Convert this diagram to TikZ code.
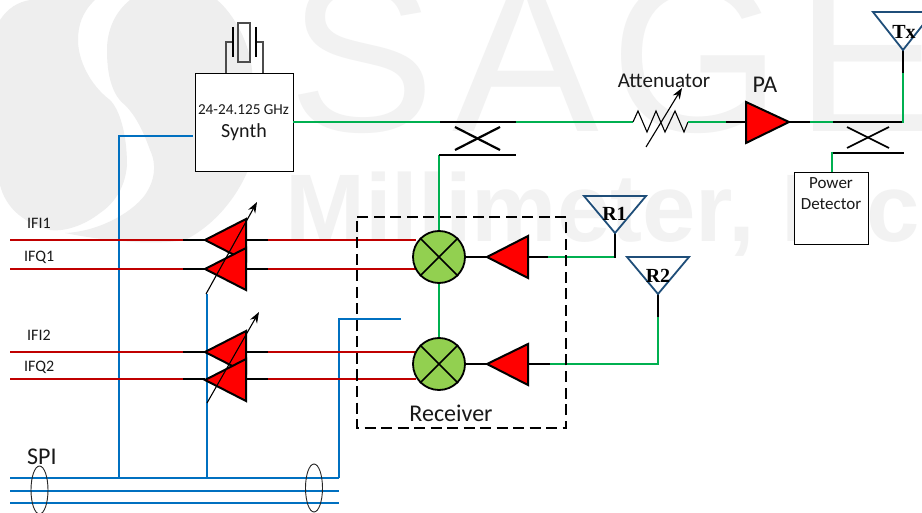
\documentclass[tikz,border=0pt]{standalone}
\usepackage{fontspec}
\setmainfont{Carlito}
\newfontfamily\wmfont{Liberation Sans}[BoldFont={Liberation Sans Bold}]
\newfontfamily\antfont{Liberation Serif}[BoldFont={Liberation Serif Bold}]
\usetikzlibrary{arrows.meta,calc,shapes.geometric}
\definecolor{wire}{HTML}{00B050}
\definecolor{bus}{HTML}{0070C0}
\definecolor{ifred}{HTML}{C00000}
\definecolor{mixgreen}{HTML}{92D050}
\definecolor{navy}{HTML}{1F4E79}
\definecolor{wmA}{HTML}{EEEEEE}
\definecolor{wmB}{HTML}{F2F2F2}
\tikzset{
  gw/.style={draw=wire,line width=2.9pt},
  bw/.style={draw=black,line width=2.6pt},
  rw/.style={draw=ifred,line width=2.9pt},
  bl/.style={draw=bus,line width=2.9pt},
  ampbody/.style={draw=black,fill=red,line width=2pt,line join=miter},
  mixer/.style={circle,draw=black,fill=mixgreen,line width=1.8pt,minimum size=52pt,inner sep=0pt},
  boxn/.style={draw=black,fill=white,line width=.9pt,inner sep=0pt},
  ant/.style={draw=navy,line width=1.8pt,line join=miter},
  antlab/.style={font=\antfont\bfseries\fontsize{20}{22}\selectfont,inner sep=0pt},
  lab/.style={inner sep=0pt,text=black!90},
  tune/.style={draw=black,line width=1.1pt,-{Stealth[length=11pt,width=8pt]}},
  wmL/.style={anchor=base west,inner sep=0pt,text=wmB,font=\wmfont\fontsize{220}{220}\selectfont},
  spioval/.style={ellipse,draw=black!85,line width=.9pt},
}
\newcommand{\AmpR}[3]{% name, apex x, y
  \draw[ampbody] (#2,#3) -- (#2+41,#3-21) -- (#2+41,#3+21) -- cycle;
  \coordinate (#1-in) at (#2,#3);
  \coordinate (#1-out) at (#2+41,#3);
}
\begin{document}
\begin{tikzpicture}[x=1pt,y=-1pt]
\useasboundingbox (0,0) rectangle (922,513);
\fill[white] (0,0) rectangle (922,513);
\begin{scope}
\clip (0,0) rectangle (922,513);
% watermark logo
\fill[wmA] (0,20) .. controls (8,8) and (18,2) .. (30,0) -- (95,0)
  .. controls (82,12) and (78,26) .. (78,40)
  .. controls (78,60) and (90,85) .. (110,100)
  .. controls (120,110) and (127,135) .. (127,165)
  .. controls (125,190) and (112,205) .. (100,213)
  .. controls (85,225) and (65,232) .. (50,230)
  .. controls (20,222) and (5,205) .. (0,185) -- cycle;
\fill[wmA] (130,0) -- (217,0) .. controls (235,15) and (250,45) .. (252,70)
  -- (252,160) .. controls (240,195) and (215,225) .. (185,240)
  .. controls (150,246) and (100,240) .. (65,233)
  .. controls (95,232) and (130,215) .. (145,195)
  .. controls (155,180) and (157,165) .. (150,150)
  .. controls (143,130) and (135,115) .. (125,105)
  .. controls (112,95) and (107,75) .. (107,50)
  .. controls (107,30) and (115,12) .. (130,0) -- cycle;
% watermark text
\node[wmL] (wmS) at (288,132) {S};
\node[wmL] (wmA1) at (452,132) {A};
\node[wmL] (wmG) at (610,132) {G};
\node[wmL] (wmE) at (795,132) {E};
\node[anchor=base west,inner sep=0pt,text=wmB,font=\wmfont\bfseries\fontsize{96}{96}\selectfont] (wmM) at (285,242) {Millimeter, Inc};

% boxes
\node[boxn,minimum width=98pt,minimum height=98pt] (synth) at (244,122) {};
\node[boxn,minimum width=74pt,minimum height=72pt] (det) at (831,208) {};
\node[lab,font=\fontsize{15.2}{17}\selectfont] (synthf) at (243.5,110) {24-24.125 GHz};
\node[lab,font=\fontsize{20}{22}\selectfont] (synthn) at (244,132) {Synth};
\node[lab,font=\fontsize{17}{19}\selectfont] (det1) at (831,183) {Power};
\node[lab,font=\fontsize{17}{19}\selectfont] (det2) at (831,204) {Detector};

% crystal
\begin{scope}[draw=black!70,line width=1.1pt]
\draw (238,23) rectangle (250,62);
\draw (226,73) -- (226,42) -- (233,42);
\draw (263,73) -- (263,42) -- (256,42);
\end{scope}
\draw[black,line width=1.5pt] (233,27) -- (233,57);
\draw[black,line width=1.5pt] (256,27) -- (256,57);

% bus and control wires
\coordinate (busA) at (119,478);
\coordinate (busB) at (207,478);
\coordinate (busC) at (339,478);
\draw[bl] (10,478) -- (339,478);
\draw[bl] (10,491) -- (339,491);
\draw[bl] (10,503) -- (339,503);
\draw[bl] (busA) -- (119,136) -- (193,136);
\draw[bl] (busB) -- (207,294);
\draw[bl] (busC) -- (339,319) -- (401,319);
\node[spioval,minimum width=17pt,minimum height=48pt,inner sep=0pt] (ov1) at (39.5,490) {};
\node[spioval,minimum width=17pt,minimum height=48pt,inner sep=0pt] (ov2) at (314,488) {};
\node[lab,anchor=base west,font=\fontsize{24}{26}\selectfont] (spi) at (27,464) {SPI};

% IF lines
\foreach \yy in {240,269,352,379}{
  \draw[rw] (10,\yy) -- (183,\yy);
  \draw[bw] (183,\yy) -- (205,\yy);
  \draw[bw] (246,\yy) -- (268,\yy);
  \draw[rw] (268,\yy) -- (416,\yy);
}
\node[lab,anchor=base west,font=\fontsize{16}{18}\selectfont] (ifi1) at (27,229) {IFI1};
\node[lab,anchor=base west,font=\fontsize{16}{18}\selectfont] (ifq1) at (24,262) {IFQ1};
\node[lab,anchor=base west,font=\fontsize{16}{18}\selectfont] (ifi2) at (27,341) {IFI2};
\node[lab,anchor=base west,font=\fontsize{16}{18}\selectfont] (ifq2) at (24,372) {IFQ2};

% IF amplifiers
\AmpR{a1}{205}{240}
\AmpR{a2}{205}{269}
\draw[tune] (206,294) -- (257,202);
\AmpR{a3}{205}{352}
\AmpR{a4}{205}{380}
\draw[tune] (207,403) -- (259,312);

% mixers
\draw[gw] (439,155) -- (439,340);
\node[mixer] (m1) at (439,257) {};
\node[mixer] (m2) at (439,364) {};
\foreach \m in {m1,m2}{
  \draw[black,line width=1.6pt] (\m.45) -- (\m.225);
  \draw[black,line width=1.6pt] (\m.135) -- (\m.315);
}
% RX amplifiers
\draw[bw] (m1.east) -- (487,257);
\draw[bw] (m2.east) -- (487,364);
\draw[ampbody] (487,257) -- (528,236) -- (528,278) -- cycle;
\draw[ampbody] (487,364) -- (528,344) -- (528,385) -- cycle;
\draw[bw] (528,257) -- (548,257);
\draw[gw] (548,257) -- (615,257);
\draw[bw] (615,258) -- (615,233);
\draw[bw] (528,364) -- (550,364);
\draw[gw] (550,364) -- (658,364) -- (658,317);
\draw[bw] (658,317) -- (658,294);
\draw[ant] (584,196) -- (646,196) -- (615,233) -- cycle;
\draw[ant] (627,257) -- (689,257) -- (658,294) -- cycle;
\node[antlab] (r1) at (614.5,214) {R1};
\node[antlab] (r2) at (658,276) {R2};

% receiver frame
\draw[black,line width=1.3pt,dash pattern=on 11pt off 5.5pt] (357,221) -- (357,428) -- (566,428) -- (566,217) -- (357,217);
\node[lab,font=\fontsize{24}{26}\selectfont] (rx) at (451,413) {Receiver};

% TX chain
\draw[gw] (synth.east) -- (440,122);
\draw[bw,line width=2.9pt] (440,122) -- (516,122);
\draw[gw] (516,122) -- (633,122);
\draw[bw,line width=2.9pt] (439,155) -- (516,155);
\draw[black,line width=2.2pt] (455,127) -- (500,150);
\draw[black,line width=2.2pt] (455,150) -- (500,127);
\draw[black,line width=1.1pt,line join=miter] (633,122) -- (638,111) -- (647,132) -- (656,111) -- (665,132) -- (675,111) -- (684,132) -- (688,122);
\draw[tune] (646,147) -- (682,88);
\node[lab,font=\fontsize{21}{23}\selectfont] (att) at (664,81) {Attenuator};
\draw[gw] (688,122) -- (726,122);
\draw[bw] (726,122) -- (746,122);
\draw[ampbody] (746,102) -- (789,122) -- (746,143) -- cycle;
\node[lab,font=\fontsize{24}{26}\selectfont] (pa) at (765,85) {PA};
\draw[bw] (789,122) -- (810,122);
\draw[gw] (810,122) -- (833,122);
\draw[draw=black,line width=1.7pt] (833,122) -- (903,122);
\draw[gw] (903,123) -- (903,73);
\draw[bw] (903,73) -- (903,50);
\draw[ant] (873,12) -- (933,12) -- (903,50) -- cycle;
\node[antlab] (tx) at (904,32) {Tx};
\draw[draw=black,line width=1.7pt] (832,153) -- (904,153);
\draw[black,line width=1.6pt] (847,127) -- (889,148);
\draw[black,line width=1.6pt] (847,148) -- (889,127);
\draw[gw] (832,152) -- (832,172);
\end{scope}
\end{tikzpicture}
\end{document}
